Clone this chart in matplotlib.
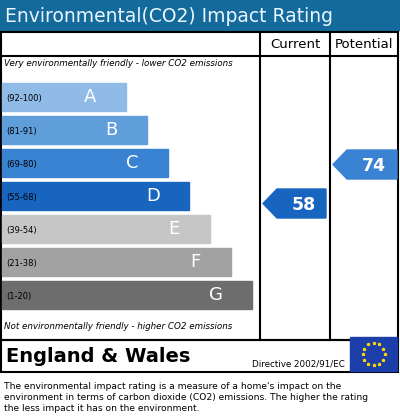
import matplotlib
matplotlib.use("Agg")
import matplotlib.pyplot as plt
from matplotlib.patches import Rectangle, Polygon
import numpy as np

bands = ["A", "B", "C", "D", "E", "F", "G"]
ranges = ["(92-100)", "(81-91)", "(69-80)", "(55-68)", "(39-54)", "(21-38)", "(1-20)"]
colors = ["#8fbbe6", "#5f9ddb", "#3a83d2", "#1865bf", "#c6c6c6", "#a2a2a2", "#6d6d6d"]
lows = [92, 81, 69, 55, 39, 21, 1]
current = 58
potential = 74

fig = plt.figure(figsize=(4, 4.19), dpi=100)
ax = fig.add_axes([0, 0, 1, 1])
ax.set_xlim(0, 400); ax.set_ylim(419, 0); ax.axis("off")

ax.add_patch(Rectangle((0, 0), 400, 30, color="#156a9c"))
ax.text(5, 16, "Environmental(CO2) Impact Rating", color="#e8f6ff", fontsize=13.5, va="center", ha="left")

lw = 1.5
ax.add_patch(Rectangle((1, 32), 397, 308, fill=False, ec="black", lw=lw))
ax.plot([1, 398], [56, 56], color="black", lw=lw)
ax.plot([260, 260], [32, 340], color="black", lw=lw)
ax.plot([330, 330], [32, 340], color="black", lw=lw)
ax.text(295, 44, "Current", ha="center", va="center", fontsize=9.5)
ax.text(364, 44, "Potential", ha="center", va="center", fontsize=9.5)
ax.text(4, 63, "Very environmentally friendly - lower CO2 emissions", fontsize=6.3, style="italic", va="center")
ax.text(4, 326, "Not environmentally friendly - higher CO2 emissions", fontsize=6.3, style="italic", va="center")

def band_y(i):
    return 83 + i * 33

for i, (b, r, c) in enumerate(zip(bands, ranges, colors)):
    y = band_y(i); w = 124 + 21 * i
    ax.add_patch(Rectangle((2, y), w, 28, color=c))
    ax.text(6, y + 15, r, fontsize=6, va="center", color="black")
    ax.text(2 + w - 36, y + 14, b, fontsize=13, va="center", ha="center", color="white")

def idx(v):
    for i, l in enumerate(lows):
        if v >= l:
            return i
    return 6

def arrow(v, x0, x1, y):
    i = idx(v)
    h = 29
    pts = [(x0, y + h / 2), (x0 + 14, y), (x1, y), (x1, y + h), (x0 + 14, y + h)]
    ax.add_patch(Polygon(pts, color=colors[i]))
    ax.text((x0 + 14 + x1) / 2 + 2, y + h / 2 + 1, str(v), color="white", fontsize=12.5, fontweight="bold", ha="center", va="center")

arrow(current, 263, 326, 189)
arrow(potential, 333, 397, 150)

ax.add_patch(Rectangle((1, 340), 397, 32, fill=False, ec="black", lw=lw))
ax.text(6, 356, "England & Wales", fontsize=14, fontweight="bold", va="center")
ax.text(252, 364, "Directive 2002/91/EC", fontsize=6.3, va="center")
ax.add_patch(Rectangle((350, 337), 47, 34, color="#1c3ea8"))
ang = np.linspace(0, 2 * np.pi, 13)[:-1]
ax.scatter(373.5 + 11 * np.cos(ang), 354 + 11 * np.sin(ang), s=3, color="#ffd700", marker="*")

txt = ["The environmental impact rating is a measure of a home's impact on the",
       "environment in terms of carbon dioxide (CO2) emissions. The higher the rating",
       "the less impact it has on the environment."]
for k, t in enumerate(txt):
    ax.text(4, 386 + 11 * k, t, fontsize=6.6, va="center")

fig.savefig("out.png", dpi=100)
